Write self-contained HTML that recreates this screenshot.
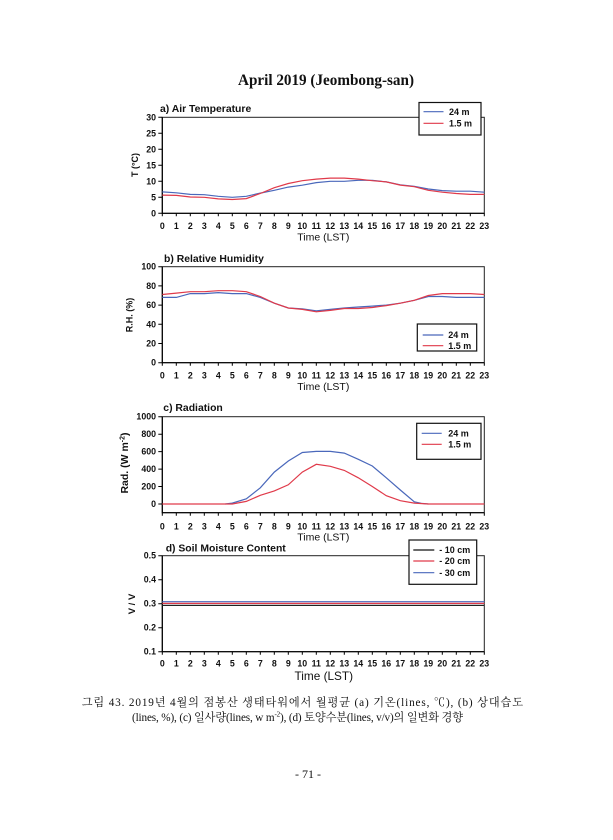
<!DOCTYPE html>
<html><head><meta charset="utf-8"><style>
html,body{margin:0;padding:0;background:#fff}
svg{display:block}
.t{font-family:"Liberation Sans",Arial,sans-serif;font-weight:bold;font-size:8.8px;fill:#111}
.xl text{text-anchor:middle}
.yl text{text-anchor:end}
.ti{font-family:"Liberation Sans",Arial,sans-serif;font-weight:bold;font-size:10.4px;fill:#111}
.tm{font-family:"Liberation Sans",Arial,sans-serif;font-size:10.5px;fill:#111;text-anchor:middle}
.lg{font-family:"Liberation Sans",Arial,sans-serif;font-weight:bold;font-size:9px;fill:#111}
.cap{font-family:"Liberation Serif","Noto Serif CJK KR","Noto Serif CJK SC",serif;font-size:11.2px;fill:#111}
</style></head><body>
<svg width="613" height="840" viewBox="0 0 613 840" xmlns="http://www.w3.org/2000/svg">
<rect width="613" height="840" fill="#fff"/>
<text x="326" y="85" text-anchor="middle" textLength="176" lengthAdjust="spacingAndGlyphs" style="font-family:'Liberation Serif','Times New Roman',serif;font-weight:bold;font-size:15.5px;fill:#111">April 2019 (Jeombong-san)</text>

<!-- ===== Plot a ===== -->
<text class="ti" x="160" y="112">a) Air Temperature</text>
<rect x="162.3" y="117.3" width="322" height="96" fill="none" stroke="#222" stroke-width="1"/>
<path d="M162.3 117.3V213.3H484.3" fill="none" stroke="#000" stroke-width="1.2"/>
<path stroke="#000" stroke-width="1" d="M158.3 213.3h4M158.3 197.3h4M158.3 181.3h4M158.3 165.3h4M158.3 149.3h4M158.3 133.3h4M158.3 117.3h4
M162.3 213.3v3M176.3 213.3v3M190.3 213.3v3M204.3 213.3v3M218.3 213.3v3M232.3 213.3v3M246.3 213.3v3M260.3 213.3v3M274.3 213.3v3M288.3 213.3v3M302.3 213.3v3M316.3 213.3v3M330.3 213.3v3M344.3 213.3v3M358.3 213.3v3M372.3 213.3v3M386.3 213.3v3M400.3 213.3v3M414.3 213.3v3M428.3 213.3v3M442.3 213.3v3M456.3 213.3v3M470.3 213.3v3M484.3 213.3v3"/>
<g class="t yl"><text x="156" y="216.3">0</text><text x="156" y="200.3">5</text><text x="156" y="184.3">10</text><text x="156" y="168.3">15</text><text x="156" y="152.3">20</text><text x="156" y="136.3">25</text><text x="156" y="120.3">30</text></g>
<g class="t xl" transform="translate(0,229)"><text x="162.3">0</text><text x="176.3">1</text><text x="190.3">2</text><text x="204.3">3</text><text x="218.3">4</text><text x="232.3">5</text><text x="246.3">6</text><text x="260.3">7</text><text x="274.3">8</text><text x="288.3">9</text><text x="302.3">10</text><text x="316.3">11</text><text x="330.3">12</text><text x="344.3">13</text><text x="358.3">14</text><text x="372.3">15</text><text x="386.3">16</text><text x="400.3">17</text><text x="414.3">18</text><text x="428.3">19</text><text x="442.3">20</text><text x="456.3">21</text><text x="470.3">22</text><text x="484.3">23</text></g>
<text class="tm" x="323.3" y="240.5">Time (LST)</text>
<text class="t" transform="translate(138,165) rotate(-90)" text-anchor="middle" style="font-size:9px">T (°C)</text>
<polyline fill="none" stroke="#4a68bb" stroke-width="1.2" points="162.3,191.9 176.3,192.8 190.3,194.4 204.3,194.7 218.3,196.3 232.3,197.3 246.3,196.3 260.3,193.1 274.3,190.3 288.3,187.1 302.3,185.2 316.3,182.6 330.3,181.3 344.3,181.3 358.3,180.3 372.3,180.3 386.3,181.9 400.3,184.8 414.3,186.4 428.3,189.0 442.3,190.6 456.3,191.2 470.3,191.2 484.3,192.2"/>
<polyline fill="none" stroke="#e03a4a" stroke-width="1.2" points="162.3,195.1 176.3,195.4 190.3,197.0 204.3,197.3 218.3,198.9 232.3,199.5 246.3,198.6 260.3,193.5 274.3,187.7 288.3,183.5 302.3,180.7 316.3,179.1 330.3,178.1 344.3,178.1 358.3,179.1 372.3,180.7 386.3,181.9 400.3,185.1 414.3,186.7 428.3,190.3 442.3,192.2 456.3,193.5 470.3,194.4 484.3,194.4"/>
<rect x="419" y="102.5" width="62" height="32.5" fill="#fff" stroke="#111" stroke-width="1.2"/>
<line x1="423.5" y1="111.7" x2="443.5" y2="111.7" stroke="#4a68bb" stroke-width="1.2"/>
<line x1="423.5" y1="123.3" x2="443.5" y2="123.3" stroke="#e03a4a" stroke-width="1.2"/>
<text class="lg" x="449" y="114.9">24 m</text>
<text class="lg" x="449" y="126.5">1.5 m</text>

<!-- ===== Plot b ===== -->
<text class="ti" x="164" y="262">b) Relative Humidity</text>
<rect x="162.3" y="266.7" width="322" height="96" fill="none" stroke="#222" stroke-width="1"/>
<path d="M162.3 266.7V362.7H484.3" fill="none" stroke="#000" stroke-width="1.2"/>
<path stroke="#000" stroke-width="1" d="M158.3 362.7h4M158.3 343.5h4M158.3 324.3h4M158.3 305.1h4M158.3 285.9h4M158.3 266.7h4
M162.3 362.7v3M176.3 362.7v3M190.3 362.7v3M204.3 362.7v3M218.3 362.7v3M232.3 362.7v3M246.3 362.7v3M260.3 362.7v3M274.3 362.7v3M288.3 362.7v3M302.3 362.7v3M316.3 362.7v3M330.3 362.7v3M344.3 362.7v3M358.3 362.7v3M372.3 362.7v3M386.3 362.7v3M400.3 362.7v3M414.3 362.7v3M428.3 362.7v3M442.3 362.7v3M456.3 362.7v3M470.3 362.7v3M484.3 362.7v3"/>
<g class="t yl"><text x="156" y="365.7">0</text><text x="156" y="346.5">20</text><text x="156" y="327.3">40</text><text x="156" y="308.1">60</text><text x="156" y="288.9">80</text><text x="156" y="269.7">100</text></g>
<g class="t xl" transform="translate(0,378.5)"><text x="162.3">0</text><text x="176.3">1</text><text x="190.3">2</text><text x="204.3">3</text><text x="218.3">4</text><text x="232.3">5</text><text x="246.3">6</text><text x="260.3">7</text><text x="274.3">8</text><text x="288.3">9</text><text x="302.3">10</text><text x="316.3">11</text><text x="330.3">12</text><text x="344.3">13</text><text x="358.3">14</text><text x="372.3">15</text><text x="386.3">16</text><text x="400.3">17</text><text x="414.3">18</text><text x="428.3">19</text><text x="442.3">20</text><text x="456.3">21</text><text x="470.3">22</text><text x="484.3">23</text></g>
<text class="tm" x="323.3" y="389.8">Time (LST)</text>
<text class="t" transform="translate(132.5,315) rotate(-90)" text-anchor="middle" style="font-size:9px">R.H. (%)</text>
<polyline fill="none" stroke="#4a68bb" stroke-width="1.2" points="162.3,297.4 176.3,297.4 190.3,293.6 204.3,293.6 218.3,292.6 232.3,293.6 246.3,293.6 260.3,297.4 274.3,303.2 288.3,308.0 302.3,308.9 316.3,310.9 330.3,309.4 344.3,308.0 358.3,307.0 372.3,306.1 386.3,305.1 400.3,303.2 414.3,300.3 428.3,296.5 442.3,296.5 456.3,297.4 470.3,297.4 484.3,297.4"/>
<polyline fill="none" stroke="#e03a4a" stroke-width="1.2" points="162.3,294.5 176.3,293.1 190.3,291.7 204.3,291.7 218.3,290.7 232.3,290.7 246.3,291.7 260.3,296.5 274.3,303.2 288.3,308.0 302.3,309.4 316.3,311.8 330.3,310.4 344.3,308.5 358.3,308.5 372.3,307.5 386.3,305.6 400.3,303.2 414.3,300.3 428.3,295.5 442.3,293.6 456.3,293.6 470.3,293.6 484.3,294.5"/>
<rect x="417.3" y="324" width="59.4" height="27" fill="#fff" stroke="#111" stroke-width="1.2"/>
<line x1="422.7" y1="335" x2="443.3" y2="335" stroke="#4a68bb" stroke-width="1.2"/>
<line x1="422.7" y1="345.7" x2="443.3" y2="345.7" stroke="#e03a4a" stroke-width="1.2"/>
<text class="lg" x="448.3" y="338.2">24 m</text>
<text class="lg" x="448.3" y="348.9">1.5 m</text>

<!-- ===== Plot c ===== -->
<text class="ti" x="163.3" y="411">c) Radiation</text>
<rect x="162.3" y="416.7" width="322" height="96" fill="none" stroke="#222" stroke-width="1"/>
<path d="M162.3 416.7V512.7H484.3" fill="none" stroke="#000" stroke-width="1.2"/>
<path stroke="#000" stroke-width="1" d="M158.3 504h4M158.3 486.5h4M158.3 469.1h4M158.3 451.6h4M158.3 434.2h4M158.3 416.7h4
M162.3 512.7v3M176.3 512.7v3M190.3 512.7v3M204.3 512.7v3M218.3 512.7v3M232.3 512.7v3M246.3 512.7v3M260.3 512.7v3M274.3 512.7v3M288.3 512.7v3M302.3 512.7v3M316.3 512.7v3M330.3 512.7v3M344.3 512.7v3M358.3 512.7v3M372.3 512.7v3M386.3 512.7v3M400.3 512.7v3M414.3 512.7v3M428.3 512.7v3M442.3 512.7v3M456.3 512.7v3M470.3 512.7v3M484.3 512.7v3"/>
<g class="t yl"><text x="156" y="507">0</text><text x="156" y="489.5">200</text><text x="156" y="472.1">400</text><text x="156" y="454.6">600</text><text x="156" y="437.2">800</text><text x="156" y="419.7">1000</text></g>
<g class="t xl" transform="translate(0,529.3)"><text x="162.3">0</text><text x="176.3">1</text><text x="190.3">2</text><text x="204.3">3</text><text x="218.3">4</text><text x="232.3">5</text><text x="246.3">6</text><text x="260.3">7</text><text x="274.3">8</text><text x="288.3">9</text><text x="302.3">10</text><text x="316.3">11</text><text x="330.3">12</text><text x="344.3">13</text><text x="358.3">14</text><text x="372.3">15</text><text x="386.3">16</text><text x="400.3">17</text><text x="414.3">18</text><text x="428.3">19</text><text x="442.3">20</text><text x="456.3">21</text><text x="470.3">22</text><text x="484.3">23</text></g>
<text class="tm" x="323.3" y="540.5">Time (LST)</text>
<text class="t" transform="translate(128,463) rotate(-90)" text-anchor="middle" style="font-size:10.5px">Rad. (W m<tspan dy="-3.5" style="font-size:7px">-2</tspan><tspan dy="3.5">)</tspan></text>
<polyline fill="none" stroke="#4a68bb" stroke-width="1.2" points="225.3,504 232.3,503.1 246.3,498.8 260.3,487.8 274.3,472.1 288.3,461.0 302.3,452.5 316.3,451.4 330.3,451.4 344.3,453.1 358.3,459.3 372.3,466.0 386.3,477.8 400.3,490.0 414.3,501.8 421.3,503.3 428.3,504"/>
<polyline fill="none" stroke="#e03a4a" stroke-width="1.2" points="162.3,504 232.3,504 246.3,501.4 260.3,495.3 274.3,490.9 288.3,484.8 302.3,472.1 316.3,464.3 330.3,466.3 344.3,470.4 358.3,477.8 372.3,486.5 386.3,495.7 400.3,500.7 414.3,503.1 428.3,504 484.3,504"/>
<rect x="416.7" y="423.3" width="64.3" height="36" fill="#fff" stroke="#111" stroke-width="1.2"/>
<line x1="421.7" y1="433.3" x2="441.7" y2="433.3" stroke="#4a68bb" stroke-width="1.2"/>
<line x1="421.7" y1="444.3" x2="441.7" y2="444.3" stroke="#e03a4a" stroke-width="1.2"/>
<text class="lg" x="448.3" y="436.5">24 m</text>
<text class="lg" x="448.3" y="447.5">1.5 m</text>

<!-- ===== Plot d ===== -->
<text class="ti" x="165.7" y="551.5">d) Soil Moisture Content</text>
<rect x="162.3" y="555.7" width="322" height="96" fill="none" stroke="#222" stroke-width="1"/>
<path d="M162.3 555.7V651.7H484.3" fill="none" stroke="#000" stroke-width="1.2"/>
<path stroke="#000" stroke-width="1" d="M158.3 651.7h4M158.3 627.7h4M158.3 603.7h4M158.3 579.7h4M158.3 555.7h4
M162.3 651.7v3M176.3 651.7v3M190.3 651.7v3M204.3 651.7v3M218.3 651.7v3M232.3 651.7v3M246.3 651.7v3M260.3 651.7v3M274.3 651.7v3M288.3 651.7v3M302.3 651.7v3M316.3 651.7v3M330.3 651.7v3M344.3 651.7v3M358.3 651.7v3M372.3 651.7v3M386.3 651.7v3M400.3 651.7v3M414.3 651.7v3M428.3 651.7v3M442.3 651.7v3M456.3 651.7v3M470.3 651.7v3M484.3 651.7v3"/>
<g class="t yl"><text x="156" y="654.7">0.1</text><text x="156" y="630.7">0.2</text><text x="156" y="606.7">0.3</text><text x="156" y="582.7">0.4</text><text x="156" y="558.7">0.5</text></g>
<g class="t xl" transform="translate(0,666.5)"><text x="162.3">0</text><text x="176.3">1</text><text x="190.3">2</text><text x="204.3">3</text><text x="218.3">4</text><text x="232.3">5</text><text x="246.3">6</text><text x="260.3">7</text><text x="274.3">8</text><text x="288.3">9</text><text x="302.3">10</text><text x="316.3">11</text><text x="330.3">12</text><text x="344.3">13</text><text x="358.3">14</text><text x="372.3">15</text><text x="386.3">16</text><text x="400.3">17</text><text x="414.3">18</text><text x="428.3">19</text><text x="442.3">20</text><text x="456.3">21</text><text x="470.3">22</text><text x="484.3">23</text></g>
<text class="tm" x="323.8" y="680" style="font-size:11.8px">Time (LST)</text>
<text class="t" transform="translate(135,604) rotate(-90)" text-anchor="middle" style="font-size:9.5px">V / V</text>
<line x1="162.3" y1="601.7" x2="484.3" y2="601.7" stroke="#4a68bb" stroke-width="1.2"/>
<line x1="162.3" y1="603.4" x2="484.3" y2="603.4" stroke="#e03a4a" stroke-width="1.2"/>
<line x1="162.3" y1="605.4" x2="484.3" y2="605.4" stroke="#222" stroke-width="1.2"/>
<rect x="409" y="540" width="67.7" height="44.3" fill="#fff" stroke="#111" stroke-width="1.2"/>
<line x1="413.3" y1="550" x2="434.3" y2="550" stroke="#111" stroke-width="1.2"/>
<line x1="413.3" y1="561" x2="434.3" y2="561" stroke="#e03a4a" stroke-width="1.2"/>
<line x1="413.3" y1="572.7" x2="434.3" y2="572.7" stroke="#4a68bb" stroke-width="1.2"/>
<text class="lg" x="439.3" y="553.2">- 10 cm</text>
<text class="lg" x="439.3" y="564.2">- 20 cm</text>
<text class="lg" x="439.3" y="575.9">- 30 cm</text>

<!-- ===== Caption ===== -->
<text class="cap" x="81.7" y="705.8" textLength="441.3" lengthAdjust="spacing">그림 43. 2019년 4월의 점봉산 생태타워에서 월평균 (a) 기온(lines, ℃), (b) 상대습도</text>
<text class="cap" x="132" y="720.8" textLength="331" lengthAdjust="spacing">(lines, %), (c) 일사량(lines, w m<tspan dy="-4.5" style="font-size:7px">-2</tspan><tspan dy="4.5">), (d) 토양수분(lines, v/v)의 일변화 경향</tspan></text>
<text class="cap" x="308" y="778" text-anchor="middle" style="font-size:12px">- 71 -</text>
</svg>
</body></html>
